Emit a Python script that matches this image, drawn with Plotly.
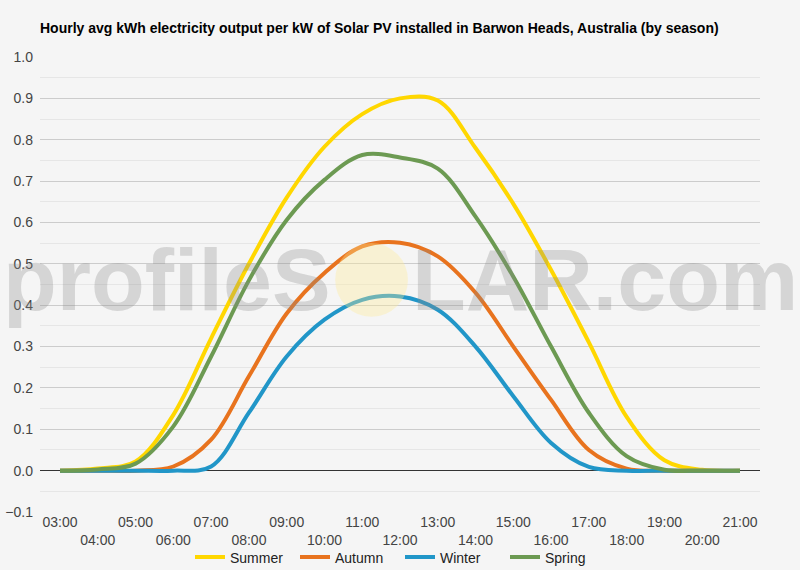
import plotly.graph_objects as go

# hourly avg output per kW
hours = list(range(3, 22))
hour_labels = ["%02d:00" % h for h in hours]
summer = [0, 0.005, 0.022, 0.135, 0.32, 0.50, 0.66, 0.783, 0.862, 0.900, 0.895,
          0.78, 0.645, 0.485, 0.31, 0.13, 0.025, 0.002, 0]
autumn = [0, 0, 0, 0.01, 0.075, 0.228, 0.38, 0.478, 0.542, 0.551, 0.518,
          0.43, 0.30, 0.171, 0.05, 0.005, 0, 0, 0]
winter = [0, 0, 0, 0, 0.01, 0.14, 0.276, 0.365, 0.413, 0.421, 0.389,
          0.30, 0.18, 0.067, 0.009, 0, 0, 0, 0]
spring = [0, 0.003, 0.017, 0.107, 0.276, 0.46, 0.606, 0.703, 0.763, 0.757, 0.73,
          0.614, 0.469, 0.30, 0.14, 0.035, 0.002, 0, 0]

seasons = ["Summer", "Autumn", "Winter", "Spring"]
colors = ["#FFD700", "#E8731E", "#2196C8", "#6C9A52"]
series = [summer, autumn, winter, spring]

FONT = "Arial, Liberation Sans, sans-serif"

fig = go.Figure()
for name, col, vals in zip(seasons, colors, series):
    fig.add_trace(go.Scatter(x=hours, y=vals, name=name, mode="lines",
                             line=dict(color=col, width=4, shape="spline", smoothing=1),
                             hoverinfo="skip"))

# staggered tick labels: odd hours on first row, even on second
ticktext = [lab if h % 2 == 1 else "<br>" + lab for h, lab in zip(hours, hour_labels)]

fig.update_layout(
    width=800, height=570,
    paper_bgcolor="#f5f5f5", plot_bgcolor="#f5f5f5",
    margin=dict(l=40, r=40, t=57, b=58, autoexpand=False),
    font=dict(family=FONT, size=14, color="#444444"),
    title=dict(text="<b>Hourly avg kWh electricity output per kW of Solar PV installed in Barwon Heads, Australia (by season)</b>",
               xref="paper", x=0, xanchor="left", y=1 - 28 / 570, yanchor="middle",
               font=dict(family=FONT, size=14, color="#000000")),
    showlegend=True,
    legend=dict(orientation="h", x=0.5, xanchor="center", y=-0.1, yanchor="middle",
                font=dict(size=14, color="#222222"), bgcolor="rgba(0,0,0,0)",
                itemwidth=30, entrywidth=60),
    xaxis=dict(range=[2.47, 21.53], tickvals=hours, ticktext=ticktext,
               showgrid=False, zeroline=False, showline=False, ticks="",
               tickfont=dict(size=14, color="#444444")),
    yaxis=dict(range=[-0.1, 1.0], dtick=0.1, tickformat=".1f",
               showgrid=True, gridcolor="#cccccc", gridwidth=1,
               zeroline=True, zerolinecolor="#333333", zerolinewidth=1,
               showline=False, ticks="", ticklabelstandoff=6,
               minor=dict(dtick=0.05, showgrid=True, gridcolor="#e6e6e6"),
               tickfont=dict(size=14, color="#444444")),
)

# profileSOLAR watermark
fig.add_shape(type="circle", xref="paper", yref="paper",
              x0=0.41, x1=0.511, y0=0.429, y1=0.591,
              fillcolor="rgba(255,236,150,0.35)", line=dict(width=0), layer="above")
fig.add_annotation(text="<b>profileS</b>", xref="paper", yref="paper", x=0.407, y=0.51,
                   xanchor="right", yanchor="middle", showarrow=False,
                   font=dict(family=FONT, size=88, color="rgba(140,140,140,0.3)"))
fig.add_annotation(text="<b>LAR.com</b>", xref="paper", yref="paper", x=0.514, y=0.51,
                   xanchor="left", yanchor="middle", showarrow=False,
                   font=dict(family=FONT, size=88, color="rgba(140,140,140,0.3)"))

# drop the page's default body margin so the chart fills the window
fig.write_html("out.html", config={"displayModeBar": False},
               post_script="document.body.style.margin='0';document.body.style.background='#f5f5f5';")
